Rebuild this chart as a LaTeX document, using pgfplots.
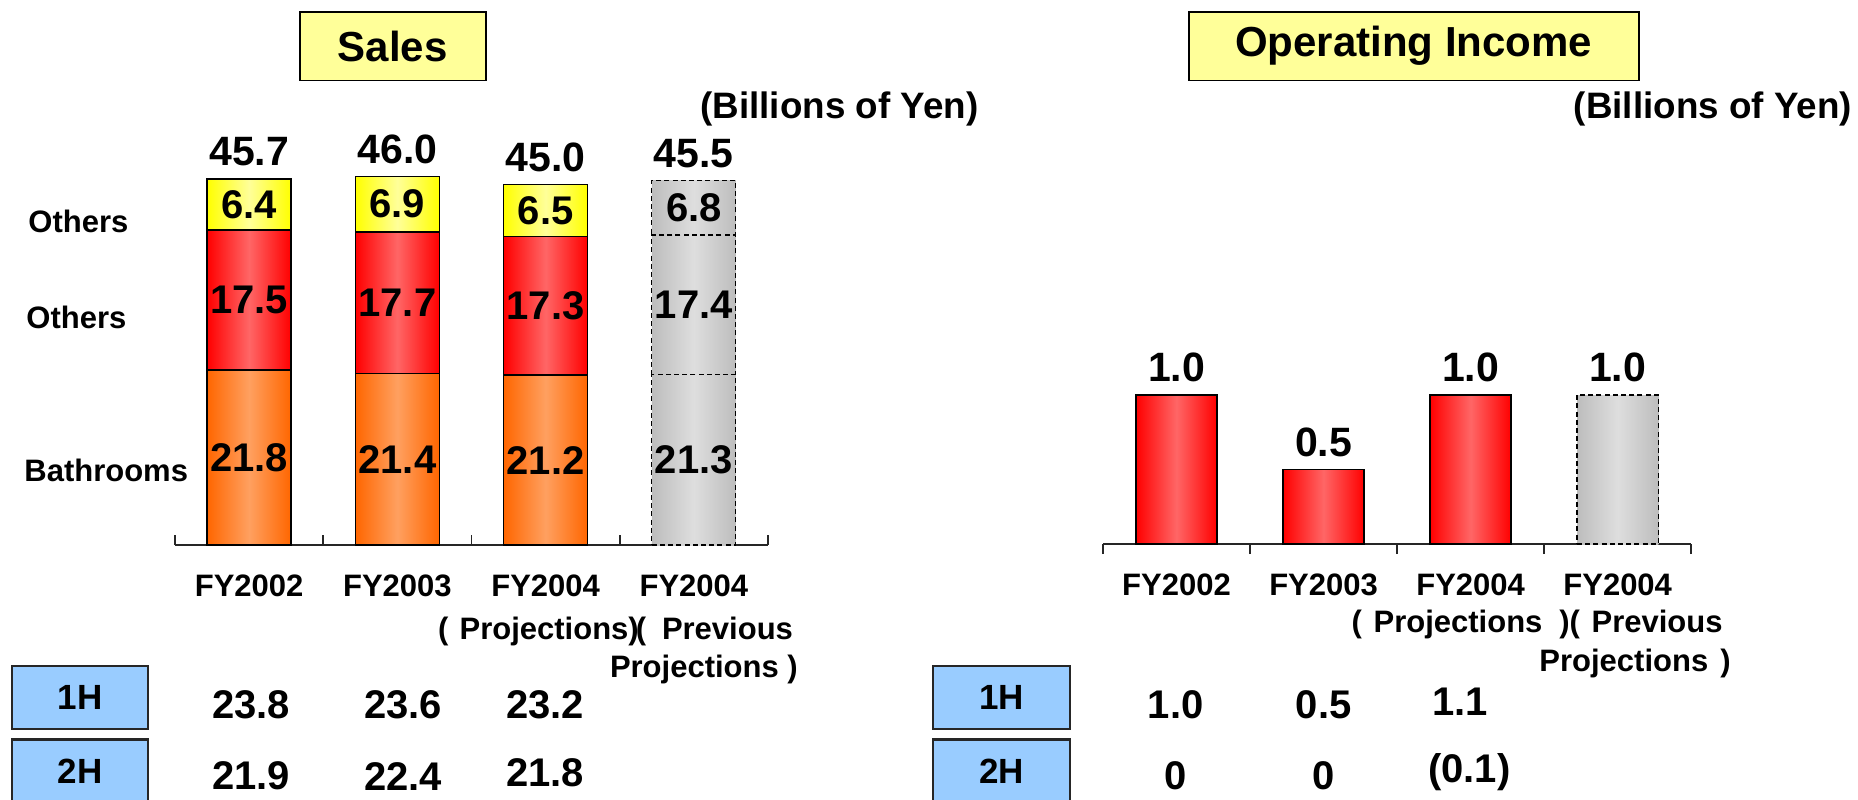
\documentclass[border=0pt]{standalone}
\usepackage{pgfplots}
\pgfplotsset{compat=1.18}
\usepackage{pgfplotstable}
\usepackage{fontspec}
\setmainfont{Liberation Sans}

\definecolor{titleyellow}{HTML}{FFFF99}
\definecolor{hbox}{HTML}{99CCFF}
\definecolor{orEdge}{HTML}{FF6600}
\definecolor{orMid}{HTML}{FFA060}
\definecolor{rdEdge}{HTML}{FF0000}
\definecolor{rdMid}{HTML}{FF6666}
\definecolor{ylEdge}{HTML}{FFFF00}
\definecolor{ylMid}{HTML}{FFFF99}
\definecolor{gyEdge}{HTML}{BDBDBD}
\definecolor{gyMid}{HTML}{DEDEDE}

\newcommand\segfont{\fontsize{20}{24}\selectfont\bfseries}
\newcommand\topfont{\fontsize{20.5}{24}\selectfont\bfseries}
\newcommand\tickfont{\fontsize{15.5}{21}\selectfont\bfseries}
\newcommand\sidefont{\fontsize{15.5}{18}\selectfont\bfseries}
\newcommand\valfont{\fontsize{20}{24}\selectfont\bfseries}

\pgfplotstableread{
x bath oth oth2
0 21.8 17.5 6.4
1 21.4 17.7 6.9
2 21.2 17.3 6.5
}\salesdata
\pgfplotstableread{
x bath oth oth2
3 21.3 17.4 6.8
}\prevdata
\pgfplotstableread{
x total
0 45.7
1 46.0
2 45.0
3 45.5
}\totaldata
\pgfplotstableread{
x oi
0 1.0
1 0.5
2 1.0
}\oidata
\pgfplotstableread{
x oi
3 1.0
}\oiprev

\pgfplotsset{
  /pgf/number format/assume math mode=true,
  base/.style={scale only axis, xmin=-0.5, xmax=3.5, ymin=0,
    enlargelimits=false, clip=false},
  leftax/.style={base, width=296.5pt, height=200.3pt, ymax=50,
    at={(87.5pt,127pt)}, anchor=south west},
  rightax/.style={base, width=294.1pt, height=149pt, ymax=2,
    at={(551.5pt,127.5pt)}, anchor=south west},
  showx/.style={axis y line=none, axis x line*=bottom,
    axis line style={line width=1pt, black!85},
    xtick={0,1,2,3}, major tick length=0pt,
    minor xtick={-0.5,0.5,1.5,2.5,3.5}, minor tick length=5pt,
    tick align=inside, every tick/.style={black!85, line width=0.9pt},
    ytick=\empty, xticklabels={FY2002, FY2003, FY2004, FY2004},
    xticklabel style={font=\tickfont, anchor=north,
      inner sep=0pt, yshift=-14.5pt}},
  seg/.style={nodes near coords={\pgfmathprintnumber[fixed,fixed zerofill,precision=1]{\pgfplotspointmeta}},
    point meta=explicit, nodes near coords align=center,
    every node near coord/.append style={font=\segfont, text=black}},
  topl/.style={nodes near coords={\pgfmathprintnumber[fixed,fixed zerofill,precision=1]{\pgfplotspointmeta}},
    point meta=explicit, nodes near coords align=center,
    every node near coord/.append style={font=\topfont, text=black, yshift=13.6pt}},
  colbar/.style={draw=black, line width=0.85pt},
  graybar/.style={draw=black, line width=0.6pt, dash pattern=on 2.5pt off 1.6pt,
    left color=gyEdge, right color=gyEdge, middle color=gyMid},
}

% one stacked sales bar per axis, so that each bar gets its own shading
\newcommand\salesbar[1]{%
\begin{axis}[leftax, hide axis, ybar stacked, bar width=42pt, restrict x to domain=#1:#1]
\addplot[colbar, left color=orEdge, right color=orEdge, middle color=orMid, seg]
  table[x=x, y=bath, meta=bath] {\salesdata};
\addplot[colbar, left color=rdEdge, right color=rdEdge, middle color=rdMid, seg]
  table[x=x, y=oth, meta=oth] {\salesdata};
\addplot[colbar, left color=ylEdge, right color=ylEdge, middle color=ylMid, seg]
  table[x=x, y=oth2, meta=oth2] {\salesdata};
\end{axis}}

\begin{document}
\begin{tikzpicture}
\useasboundingbox (0,0) rectangle (929pt,399.5pt);
\clip (0,0) rectangle (929pt,399.5pt);

% titles
\node[draw=black, line width=0.9pt, fill=titleyellow, minimum width=93pt, minimum height=34.4pt,
  inner sep=0pt, font=\fontsize{21}{25}\selectfont\bfseries] at (196.4pt,376.4pt) {Sales};
\node[draw=black, line width=0.9pt, fill=titleyellow, minimum width=225pt, minimum height=34.4pt,
  inner sep=0pt, font=\fontsize{21}{25}\selectfont\bfseries] at (706.8pt,376.4pt) {Operating Income};
\node[anchor=east, inner sep=0pt, font=\fontsize{18.4}{22}\selectfont\bfseries] at (489.4pt,345pt) {(Billions of Yen)};
\node[anchor=east, inner sep=0pt, font=\fontsize{18.4}{22}\selectfont\bfseries] at (926.1pt,345pt) {(Billions of Yen)};

% side labels
\node[anchor=west, inner sep=0pt, font=\sidefont] at (14pt,288.7pt) {Others};
\node[anchor=west, inner sep=0pt, font=\sidefont] at (13pt,240.7pt) {Others};
\node[anchor=west, inner sep=0pt, font=\sidefont] at (12pt,164.3pt) {Bathrooms};

% ---- Sales: axis line, ticks and year labels
\begin{axis}[leftax, showx]
\end{axis}

% ---- Sales: previous projections (gray stacked)
\begin{axis}[leftax, hide axis, ybar stacked, bar width=42pt]
\addplot[graybar, seg] table[x=x, y=bath, meta=bath] {\prevdata};
\addplot[graybar, seg] table[x=x, y=oth, meta=oth] {\prevdata};
\addplot[graybar, seg] table[x=x, y=oth2, meta=oth2] {\prevdata};
\end{axis}

% ---- Sales: actual / projections (stacked)
\salesbar{0}
\salesbar{1}
\salesbar{2}

% ---- Sales totals
\begin{axis}[leftax, hide axis]
\addplot[draw=none, topl] table[x=x, y=total, meta=total] {\totaldata};
\end{axis}

% ---- Operating income
\begin{axis}[rightax, showx, ybar, bar width=40.6pt]
\addplot[colbar, bar shift=0pt, left color=rdEdge, right color=rdEdge, middle color=rdMid, topl,
  restrict x to domain=0:0] table[x=x, y=oi, meta=oi] {\oidata};
\addplot[colbar, bar shift=0pt, left color=rdEdge, right color=rdEdge, middle color=rdMid, topl,
  restrict x to domain=1:1] table[x=x, y=oi, meta=oi] {\oidata};
\addplot[colbar, bar shift=0pt, left color=rdEdge, right color=rdEdge, middle color=rdMid, topl,
  restrict x to domain=2:2] table[x=x, y=oi, meta=oi] {\oidata};
\addplot[graybar, bar shift=0pt, topl]
  table[x=x, y=oi, meta=oi] {\oiprev};
\end{axis}

% ---- second and third lines of the category labels
\begin{scope}[every node/.style={font=\tickfont, inner sep=0pt, anchor=base west}]
\node at (218.8pt,79.8pt) {(};
\node at (229.6pt,79.8pt) {Projections)};
\node at (317.7pt,79.8pt) {(};
\node at (330.8pt,79.8pt) {Previous};
\node at (304.8pt,60.7pt) {Projections};
\node at (393.5pt,60.7pt) {)};
\node at (675.6pt,83.5pt) {(};
\node at (686.6pt,83.5pt) {Projections};
\node at (779.5pt,83.5pt) {)(};
\node at (795.6pt,83.5pt) {Previous};
\node at (769.5pt,64pt) {Projections};
\node at (860pt,64pt) {)};
\end{scope}

% ---- half-year tables
\foreach \bx in {40pt, 500.7pt}{
  \node[draw=black!85, line width=1.1pt, fill=hbox, minimum width=68.2pt, minimum height=31.4pt,
    inner sep=0pt, font=\fontsize{17.5}{20}\selectfont\bfseries] at (\bx,50.8pt) {1H};
  \node[draw=black!85, line width=1.1pt, fill=hbox, minimum width=68.2pt, minimum height=31.4pt,
    inner sep=0pt, font=\fontsize{17.5}{20}\selectfont\bfseries] at (\bx,14.1pt) {2H};
}
\node[font=\valfont, inner sep=0pt] at (125.6pt,47pt) {23.8};
\node[font=\valfont, inner sep=0pt] at (201.5pt,47pt) {23.6};
\node[font=\valfont, inner sep=0pt] at (272.6pt,47pt) {23.2};
\node[font=\valfont, inner sep=0pt] at (125.6pt,11.4pt) {21.9};
\node[font=\valfont, inner sep=0pt] at (201.5pt,11.4pt) {22.4};
\node[font=\valfont, inner sep=0pt] at (272.6pt,13.2pt) {21.8};
\node[font=\valfont, inner sep=0pt] at (587.8pt,47pt) {1.0};
\node[font=\valfont, inner sep=0pt] at (661.8pt,47pt) {0.5};
\node[font=\valfont, inner sep=0pt] at (730pt,48.6pt) {1.1};
\node[font=\valfont, inner sep=0pt] at (587.8pt,11.4pt) {0};
\node[font=\valfont, inner sep=0pt] at (661.8pt,11.4pt) {0};
\node[font=\valfont, inner sep=0pt] at (734.7pt,13.2pt) {(0.1)};
\end{tikzpicture}
\end{document}
